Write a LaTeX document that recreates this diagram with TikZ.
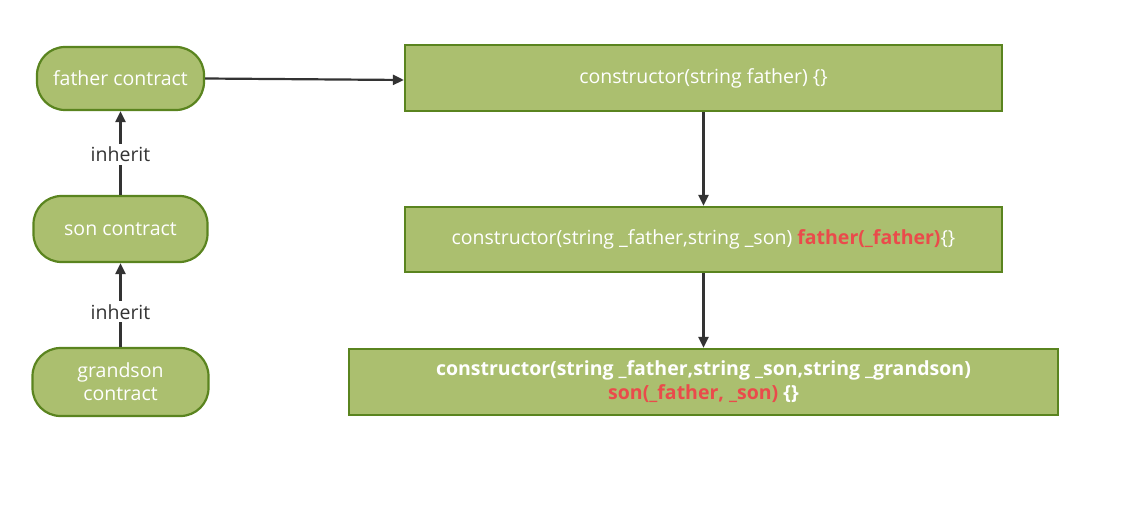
\documentclass[tikz,border=0pt]{standalone}
\usepackage{fontspec}
\setmainfont{Open Sans}
\usetikzlibrary{arrows.meta}
\definecolor{gfill}{HTML}{ABBF6F}
\definecolor{gdraw}{HTML}{5A841F}
\definecolor{rtext}{HTML}{EA4B4B}
\definecolor{ltext}{HTML}{333333}
\begin{document}
\begin{tikzpicture}[x=1pt,y=-1pt,
  contract/.style={draw=gdraw,fill=gfill,line width=2.2pt,rounded corners=28pt,
    text=white,font=\fontsize{19.5}{23}\selectfont,align=center,inner sep=0pt},
  ctorbox/.style={draw=gdraw,fill=gfill,line width=2.2pt,
    text=white,font=\fontsize{19.5}{24}\selectfont,align=center,inner sep=0pt},
  conn/.style={draw=ltext,line width=2.2pt,-{Triangle[length=11pt,width=10pt]}},
  lbl/.style={fill=white,text=ltext,font=\fontsize{19.5}{23}\selectfont,inner sep=3pt}]
\useasboundingbox (0,0) rectangle (1130,505);
\node[contract,minimum width=167pt,minimum height=63pt] (father) at (120.5,78.5) {father contract};
\node[contract,minimum width=174pt,minimum height=66pt] (son) at (120.5,229) {son contract};
\node[contract,minimum width=176pt,minimum height=68pt] (grandson) at (120.5,382) {grandson\\contract};
\node[ctorbox,minimum width=597pt,minimum height=66pt] (b1) at (703.5,78) {constructor(string father) \{\}};
\node[ctorbox,minimum width=597pt,minimum height=65pt] (b2) at (703.5,239.5) {constructor(string \_father,string \_son) \textcolor{rtext}{\textbf{father(\_father)}}\{\}};
\node[ctorbox,minimum width=709pt,minimum height=66pt,font=\fontsize{19.5}{24}\selectfont\bfseries] (b3) at (703.5,382) {constructor(string \_father,string \_son,string \_grandson)\\\textcolor{rtext}{son(\_father, \_son)} \{\}};
\draw[conn] (son) -- node[lbl,pos=0.48] {inherit} (father);
\draw[conn] (grandson) -- node[lbl,pos=0.42] {inherit} (son);
\draw[conn] (father.east) -- ([yshift=-2pt]b1.west);
\draw[conn] (b1) -- (b2);
\draw[conn] (b2) -- (b3);
\end{tikzpicture}
\end{document}
